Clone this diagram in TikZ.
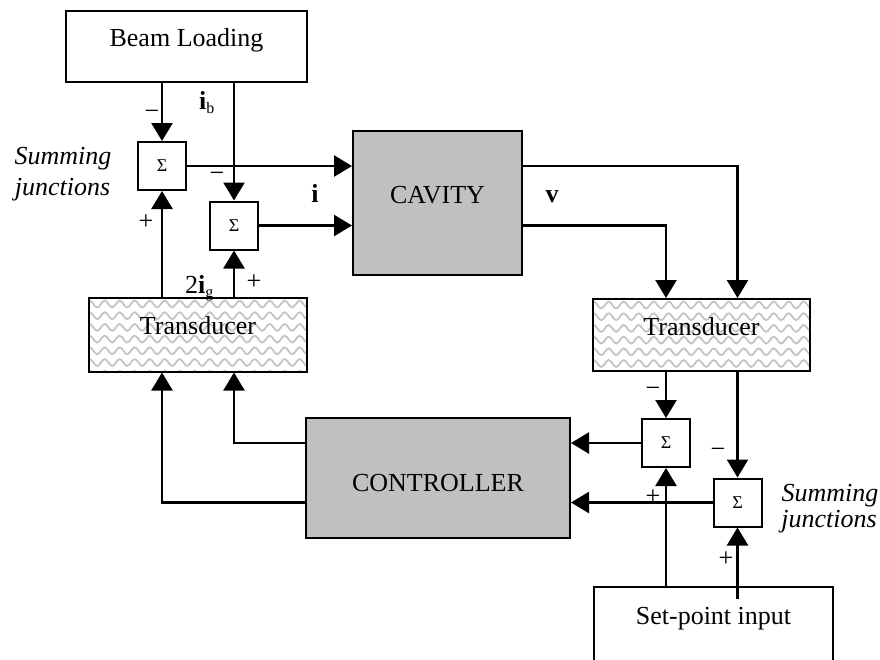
\documentclass[tikz,border=0pt]{standalone}
\usepackage{fontspec}
\setmainfont{Liberation Serif}
\usetikzlibrary{arrows.meta,calc,decorations.pathmorphing}
\definecolor{boxgray}{RGB}{192,192,192}
\definecolor{wavegray}{RGB}{196,196,196}
\newcommand{\dgfont}{\fontsize{26}{31}\selectfont}
\begin{document}
\begin{tikzpicture}[x=1pt,y=-1pt,
  box/.style={draw, line width=2pt, inner sep=0pt, text height=9pt, text depth=9pt, font=\dgfont},
  graybox/.style={box, fill=boxgray},
  sig/.style={draw, line width=2pt, fill=white, minimum width=48pt, minimum height=48pt, inner sep=0pt, font=\fontsize{18}{18}\selectfont},
  wave/.style={draw=wavegray, line width=1.8pt, decorate, decoration={snake, amplitude=3.4pt, segment length=15pt}},
  wavebox/.style={box, path picture={
      \foreach \k in {0,...,6}
        \draw[wave] ($(path picture bounding box.north west)+(-4,6+11.7*\k)$) -- ++(240,0);
    }},
  conn/.style={line width=2.4pt, -{Triangle[length=18pt,width=21pt]}},
  lbl/.style={inner sep=0pt, anchor=base, font=\dgfont},
  ilbl/.style={inner sep=0pt, anchor=base, font=\dgfont\itshape}
]
\useasboundingbox (0,0) rectangle (880,659);

% main blocks
\node[box, minimum width=241pt, minimum height=71pt] (bl) at (186.5,46.5) {Beam Loading};
\node[graybox, minimum width=169pt, minimum height=144pt] (cav) at (437.5,203) {CAVITY};
\node[wavebox, minimum width=218pt, minimum height=73.5pt] (lt) at (198,334.75) {Transducer};
\node[wavebox, minimum width=217pt, minimum height=72pt] (rt) at (701.5,335) {Transducer};
\node[graybox, minimum width=264pt, minimum height=120pt, text height=27.4pt, text depth=0pt] (ctl) at (438,478) {CONTROLLER};
\node[box, minimum width=239pt, minimum height=74pt] (sp) at (713.5,624) {Set-point input};

% summing junctions
\node[sig] (s1) at (162,166) {Σ};
\node[sig] (s2) at (234,225.5) {Σ};
\node[sig] (s3) at (666,443) {Σ};
\node[sig] (s4) at (737.5,502.5) {Σ};

% connectors
\draw[conn] (bl.south -| s1) -- (s1.north);
\draw[conn] (bl.south -| s2) -- (s2.north);
\draw[conn] (s1.east) -- (s1.east -| cav.west);
\draw[conn] (s2.east) -- (s2.east -| cav.west);
\draw[conn] (lt.north -| s1) -- (s1.south);
\draw[conn] (lt.north -| s2) -- (s2.south);
\draw[conn] (cav.east |- s1.east) -| (s4.north |- rt.north);
\draw[conn] (cav.east |- s2.east) -| (s3.north |- rt.north);
\draw[conn] (rt.south -| s3) -- (s3.north);
\draw[conn] (rt.south -| s4) -- (s4.north);
\draw[conn] (s3.west) -- (s3.west -| ctl.east);
\draw[conn] (s4.west) -- (s4.west -| ctl.east);
\draw[conn] (sp.north -| s3) -- (s3.south);
\draw[conn] ($(sp.north -| s4)+(0,13)$) -- (s4.south);
\draw[conn] (ctl.west |- s3.west) -| (s2.south |- lt.south);
\draw[conn] (ctl.west |- s4.west) -| (s1.south |- lt.south);

% signs
\node[lbl] (m1) at (152,119.5) {−};
\node[lbl] (m2) at (217,181.5) {−};
\node[lbl] (p1) at (146,229.5) {+};
\node[lbl] (p2) at (254,289.5) {+};
\node[lbl] (m3) at (653,396.5) {−};
\node[lbl] (m4) at (718,457) {−};
\node[lbl] (p3) at (653,504.5) {+};
\node[lbl] (p4) at (726,566.5) {+};

% signal labels
\node[lbl, anchor=base west] (ib) at (199,109) {\textbf{i}\raisebox{-4pt}{\fontsize{16}{16}\selectfont b}};
\node[lbl, anchor=base west] (ig) at (185,293) {2\textbf{i}\raisebox{-4pt}{\fontsize{16}{16}\selectfont g}};
\node[lbl] (icur) at (315,202) {\textbf{i}};
\node[lbl] (vv) at (552,202) {\textbf{v}};

% captions
\node[ilbl] (sjl1) at (63,164) {Summing};
\node[ilbl] (sjl2) at (62.5,195) {junctions};
\node[ilbl] (sjr1) at (830,501) {Summing};
\node[ilbl] (sjr2) at (829,527) {junctions};
\end{tikzpicture}
\end{document}
